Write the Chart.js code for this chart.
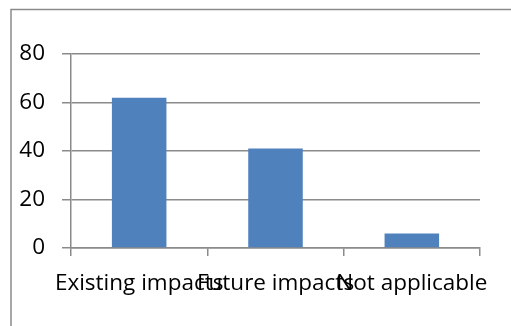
<!DOCTYPE html>
<html>
<head>
<meta charset="utf-8">
<script src="https://cdn.jsdelivr.net/npm/chart.js@4/dist/chart.umd.min.js"></script>
<style>
  html, body { margin: 0; padding: 0; background: #fff; }
  #wrap { width: 511px; height: 326px; position: relative; }
</style>
</head>
<body>
<div id="wrap"><canvas id="c" width="511" height="326"></canvas></div>
<script>
// Survey responses per impact category
const categories = ['Existing impacts', 'Future impacts', 'Not applicable'];
const counts = [62, 41, 6];
const yTicks = [0, 20, 40, 60, 80];

const lineGrey = '#8a8a8a';
const barBlue = '#4f81bd';
const labelFont = { family: "'Open Sans', sans-serif", size: 22.5 };

// Frame drawn around the chart area (it runs off the right and bottom edges)
const framePlugin = {
  id: 'frame',
  beforeDraw(chart) {
    const ctx = chart.ctx;
    ctx.save();
    ctx.strokeStyle = lineGrey;
    ctx.lineWidth = 1.5;
    ctx.strokeRect(11, 9.5, 600, 400);
    ctx.restore();
  }
};

new Chart(document.getElementById('c'), {
  type: 'bar',
  data: {
    labels: categories,
    datasets: [{
      data: counts,
      backgroundColor: barBlue,
      borderWidth: 0,
      barPercentage: 0.4,
      categoryPercentage: 1.0
    }]
  },
  options: {
    responsive: false,
    animation: false,
    devicePixelRatio: 1,
    layout: { padding: { top: 54, right: 31, left: 0, bottom: 0 } },
    plugins: {
      legend: { display: false },
      tooltip: { enabled: false }
    },
    scales: {
      x: {
        offset: true,
        grid: {
          offset: true,
          drawOnChartArea: false,
          color: lineGrey,
          lineWidth: 1.5,
          tickLength: 8
        },
        border: { display: true, color: lineGrey, width: 1.5 },
        ticks: {
          autoSkip: false,
          maxRotation: 0,
          minRotation: 0,
          padding: 14,
          color: '#000',
          font: labelFont
        },
        afterFit(scale) { scale.height = 78; }
      },
      y: {
        min: 0,
        max: 80,
        afterBuildTicks(scale) { scale.ticks = yTicks.map(v => ({ value: v })); },
        grid: {
          color: lineGrey,
          lineWidth: 1.5,
          tickLength: 9
        },
        border: { display: true, color: lineGrey, width: 1.5 },
        ticks: {
          padding: 17,
          color: '#000',
          font: labelFont
        },
        afterFit(scale) { scale.width = 71; }
      }
    }
  },
  plugins: [framePlugin]
});
</script>
</body>
</html>
